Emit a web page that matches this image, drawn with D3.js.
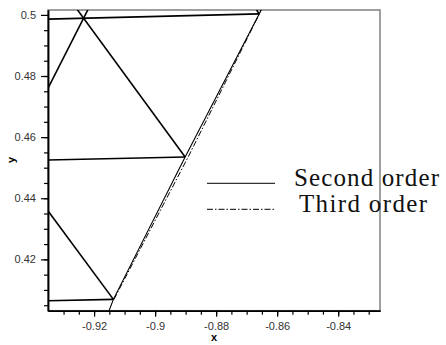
<!DOCTYPE html>
<html>
<head>
<meta charset="utf-8">
<script src="https://cdn.jsdelivr.net/npm/d3@7"></script>
<style>
  body { margin: 0; background: #fff; }
  svg { display: block; }
</style>
</head>
<body>
<svg id="chart" width="446" height="345"></svg>
<script>
// tick values and labels
const xTicks = [-0.92, -0.9, -0.88, -0.86, -0.84];
const xTickLabels = ['-0.92', '-0.9', '-0.88', '-0.86', '-0.84'];
const yTicks = [0.42, 0.44, 0.46, 0.48, 0.5];
const yTickLabels = ['0.42', '0.44', '0.46', '0.48', '0.5'];

// mesh edges (each edge is a list of x and a list of y)
const meshX = [
  [-0.94426, -0.86590],
  [-0.91872, -0.94426],
  [-0.93023, -0.89016],
  [-0.94426, -0.89016],
  [-0.94426, -0.91367],
  [-0.94426, -0.91367],
  [-0.86590, -0.87115]
];
const meshY = [
  [0.49840, 0.50033],
  [0.50819, 0.45799],
  [0.50819, 0.45350],
  [0.45232, 0.45350],
  [0.44826, 0.40691],
  [0.40625, 0.40691],
  [0.50033, 0.50819]
];

// shock line, second order
const secondX = [-0.91751, -0.91367, -0.89016, -0.86590, -0.86203];
const secondY = [0.39686, 0.40691, 0.45350, 0.50033, 0.50819];

// shock line, third order
const thirdX = [-0.91351, -0.88908, -0.86574, -0.86492];
const thirdY = [0.40685, 0.45367, 0.50049, 0.50229];

const legendNames = ['Second order', 'Third order'];

const svg = d3.select('#chart');
const plotLeft = 48, plotRight = 380, plotTop = 10, plotBottom = 310.7;

const x = d3.scaleLinear().domain([-0.9351, -0.8263]).range([plotLeft, plotRight]);
const y = d3.scaleLinear().domain([0.4032, 0.5016]).range([plotBottom, plotTop]);

svg.append('defs').append('clipPath')
  .attr('id', 'plot-clip')
  .append('rect')
  .attr('x', plotLeft)
  .attr('y', plotTop)
  .attr('width', plotRight - plotLeft)
  .attr('height', plotBottom - plotTop);

// frame (top and right in grey)
svg.append('rect')
  .attr('x', plotLeft)
  .attr('y', plotTop)
  .attr('width', plotRight - plotLeft)
  .attr('height', plotBottom - plotTop)
  .attr('fill', 'none')
  .attr('stroke', '#808080')
  .attr('stroke-width', 1.5);

const plot = svg.append('g').attr('clip-path', 'url(#plot-clip)');

const line = d3.line()
  .x(d => x(d[0]))
  .y(d => y(d[1]));

meshX.forEach((xs, i) => {
  plot.append('path')
    .datum(xs.map((v, j) => [v, meshY[i][j]]))
    .attr('d', line)
    .attr('fill', 'none')
    .attr('stroke', '#000')
    .attr('stroke-width', 1.6);
});

plot.append('path')
  .datum(secondX.map((v, j) => [v, secondY[j]]))
  .attr('d', line)
  .attr('fill', 'none')
  .attr('stroke', '#000')
  .attr('stroke-width', 1.1);

plot.append('path')
  .datum(thirdX.map((v, j) => [v, thirdY[j]]))
  .attr('d', line)
  .attr('fill', 'none')
  .attr('stroke', '#000')
  .attr('stroke-width', 1)
  .attr('stroke-dasharray', '6,2,1.5,2');

// axes
function styleAxis(g) {
  g.select('.domain').attr('stroke', '#000').attr('stroke-width', 1.5);
  g.selectAll('.tick line').attr('stroke', '#000').attr('stroke-width', 1.2);
  g.selectAll('.tick text')
    .attr('fill', '#333')
    .attr('font-family', 'Liberation Sans, Arial, sans-serif')
    .attr('font-size', '11px');
}

const xMinor = d3.range(-0.93, -0.8275, 0.005);
const yMinor = d3.range(0.405, 0.4985, 0.005);

svg.append('g')
  .attr('transform', `translate(0,${plotBottom})`)
  .call(d3.axisBottom(x).tickValues(xMinor).tickSize(4).tickSizeOuter(0).tickFormat(''))
  .call(styleAxis);

svg.append('g')
  .attr('transform', `translate(0,${plotBottom})`)
  .call(d3.axisBottom(x).tickValues(xTicks).tickSize(6).tickSizeOuter(0).tickPadding(6)
    .tickFormat((d, i) => xTickLabels[i]))
  .call(styleAxis);

svg.append('g')
  .attr('transform', `translate(${plotLeft},0)`)
  .call(d3.axisLeft(y).tickValues(yMinor).tickSize(4).tickSizeOuter(0).tickFormat(''))
  .call(styleAxis);

svg.append('g')
  .attr('transform', `translate(${plotLeft},0)`)
  .call(d3.axisLeft(y).tickValues(yTicks).tickSize(7).tickSizeOuter(0).tickPadding(5)
    .tickFormat((d, i) => yTickLabels[i]))
  .call(styleAxis);

// axis titles
svg.append('text')
  .attr('x', 214)
  .attr('y', 341)
  .attr('text-anchor', 'middle')
  .attr('font-family', 'Liberation Sans, Arial, sans-serif')
  .attr('font-size', '11px')
  .attr('font-weight', 'bold')
  .attr('fill', '#000')
  .text('x');

svg.append('text')
  .attr('transform', 'translate(15,160) rotate(-90)')
  .attr('text-anchor', 'middle')
  .attr('font-family', 'Liberation Sans, Arial, sans-serif')
  .attr('font-size', '11px')
  .attr('font-weight', 'bold')
  .attr('fill', '#000')
  .text('y');

// legend
const legendLineY = [183.3, 209.3];
const legendTextX = [294, 299];
const legendTextLen = [145, 128];
const legendDash = [null, '6,2,1.5,2'];

legendNames.forEach((name, i) => {
  svg.append('line')
    .attr('x1', 207)
    .attr('x2', 275)
    .attr('y1', legendLineY[i])
    .attr('y2', legendLineY[i])
    .attr('stroke', '#000')
    .attr('stroke-width', 1)
    .attr('stroke-dasharray', legendDash[i]);

  svg.append('text')
    .attr('x', legendTextX[i])
    .attr('y', legendLineY[i] + 2.5)
    .attr('font-family', 'Liberation Serif, Times New Roman, serif')
    .attr('font-size', '25px')
    .attr('fill', '#111')
    .attr('textLength', legendTextLen[i])
    .attr('lengthAdjust', 'spacing')
    .text(name);
});
</script>
</body>
</html>
